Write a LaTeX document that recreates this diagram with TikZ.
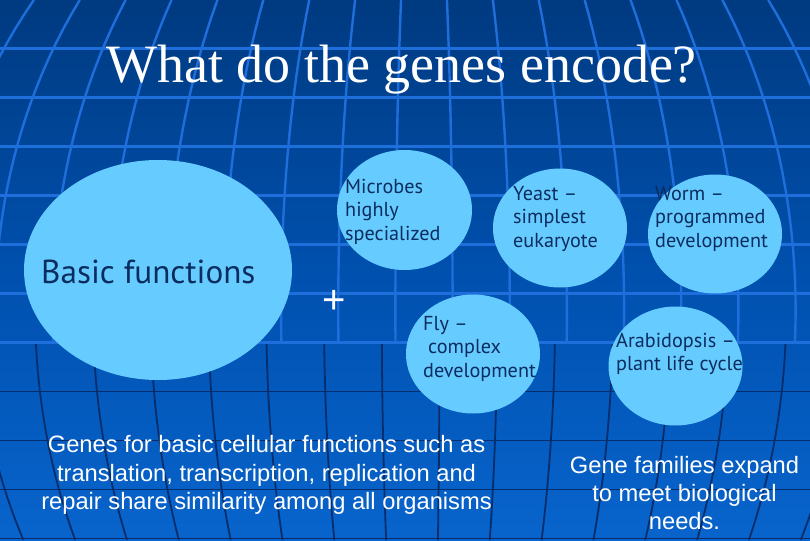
\documentclass[tikz,border=0pt]{standalone}
\usepackage{fontspec}
\setmainfont{Liberation Sans}
\newfontfamily\titlefont{Liberation Serif}
\newfontfamily\bubblefont{PT Sans}
\usetikzlibrary{shapes.geometric}
\definecolor{bgtop}{HTML}{003A80}
\definecolor{bgmid}{HTML}{0050AE}
\definecolor{bgbot}{HTML}{0864CC}
\definecolor{gridlight}{HTML}{1E6EDC}
\definecolor{griddark}{HTML}{062E6C}
\definecolor{bubble}{HTML}{66CCFF}
\definecolor{bubbletext}{HTML}{0B2C5E}
\tikzset{
  bubblenode/.style={ellipse, fill=bubble, draw=none, inner sep=0pt},
  bubbletxt/.style={anchor=base west, align=left, inner sep=0pt, text=bubbletext,
    font=\bubblefont\fontsize{20.2}{23.7}\selectfont},
  notetxt/.style={anchor=base, align=center, inner sep=0pt, text=white,
    font=\fontsize{23.7}{28.3}\selectfont},
  lightline/.style={gridlight, line width=2.4pt},
  darkline/.style={griddark, line width=1.8pt},
}
\begin{document}
\begin{tikzpicture}[x=1pt, y=-1pt]
\useasboundingbox (0,0) rectangle (810,540);
% background
\shade[top color=bgtop, bottom color=bgbot, middle color=bgmid] (0,0) rectangle (810,540);
% upper (light) grid
\begin{scope}
  \clip (0,0) rectangle (810,343);
  \foreach \k in {-10,...,9} {
    \pgfmathsetmacro{\aa}{(\k+0.5)*53/0.927}
    \draw[lightline] plot[domain=0:345, samples=25, variable=\t]
      ({424+\aa*sqrt(1-((\t-310)/520)^2)}, \t);
  }
\end{scope}
\foreach \yy in {48.5,97.5,146.5,195.5,244.5,293.5}
  \draw[lightline] (0,\yy) -- (810,\yy);
% lower (dark) grid
\begin{scope}
  \clip (0,343) rectangle (810,540);
  \foreach \k in {-10,...,9} {
    \pgfmathsetmacro{\aa}{(14+\k*52)/0.9}
    \draw[darkline] plot[domain=340:540, samples=20, variable=\t]
      ({424+\aa*sqrt(1-((\t-310)/520)^2)}, \t);
  }
\end{scope}
\foreach \yy in {391.5,440.5,489.5,538.5}
  \draw[darkline] (0,\yy) -- (810,\yy);
\draw[lightline] (0,342.5) -- (810,342.5);
% title
\node[anchor=base, inner sep=0pt, text=white, font=\titlefont\fontsize{54}{60}\selectfont]
  (title) at (401.5,83) {What do the genes encode?};
% bubbles
\node[bubblenode, minimum width=268pt, minimum height=220pt] (basic) at (158,270) {};
\node[bubblenode, minimum width=135pt, minimum height=120pt] (microbes) at (404.5,210) {};
\node[bubblenode, minimum width=134pt, minimum height=119pt] (yeast) at (560,228) {};
\node[bubblenode, minimum width=134pt, minimum height=119pt] (worm) at (715,234) {};
\node[bubblenode, minimum width=134pt, minimum height=119pt] (fly) at (473,354) {};
\node[bubblenode, minimum width=134pt, minimum height=119pt] (arab) at (675.5,366) {};
% bubble texts (base anchor = baseline of last line)
\node[anchor=base west, inner sep=0pt, text=bubbletext, font=\bubblefont\fontsize{33.2}{38}\selectfont]
  (basictxt) at (41,283) {Basic functions};
\node[bubbletxt] (microbestxt) at (345,240.4) {Microbes\\highly\\specialized};
\node[bubbletxt] (yeasttxt) at (513,247.4) {Yeast –\\simplest\\eukaryote};
\node[bubbletxt] (wormtxt) at (655,247.4) {Worm –\\programmed\\development};
\node[bubbletxt] (flytxt) at (423,377.4) {Fly –\\\hspace*{5pt}complex\\development};
\node[bubbletxt] (arabtxt) at (616,370.7) {Arabidopsis –\\plant life cycle};
% plus
\node[anchor=base, inner sep=0pt, text=white, font=\fontsize{40}{44}\selectfont]
  (plus) at (334,313) {+};
% notes
\node[notetxt] (leftnote) at (266.5,509.3)
  {Genes for basic cellular functions such as\\translation, transcription, replication and\\repair share similarity among all organisms};
\node[notetxt] (rightnote) at (684.5,529.7)
  {Gene families expand\\to meet biological\\needs.};
\end{tikzpicture}
\end{document}
